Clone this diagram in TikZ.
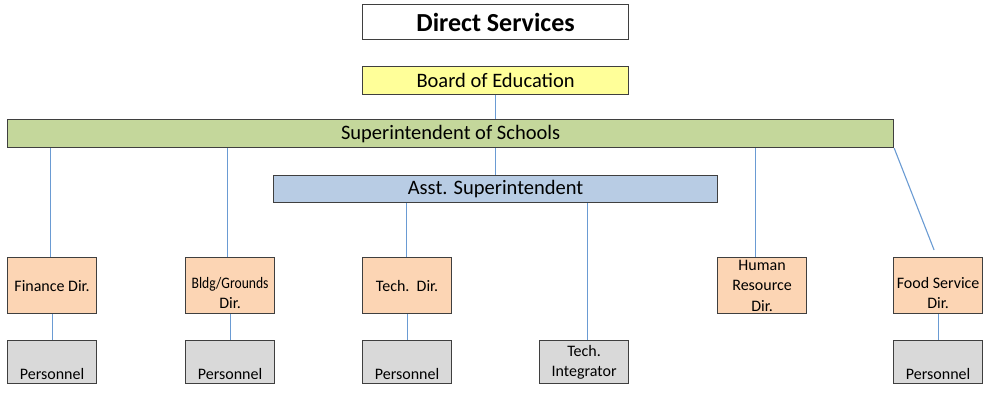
\documentclass[tikz,border=0pt]{standalone}
\usepackage{fontspec}
\setmainfont{Carlito}
\usepackage{tikz}
\usetikzlibrary{calc}
\definecolor{boardyellow}{HTML}{FFFF99}
\definecolor{supergreen}{HTML}{C4D79B}
\definecolor{asstblue}{HTML}{B8CCE4}
\definecolor{dirpeach}{HTML}{FCD5B4}
\definecolor{persgray}{HTML}{D9D9D9}
\definecolor{boxgray}{HTML}{3F3F3F}
\definecolor{linkblue}{HTML}{6A9BD3}
\begin{document}
\begin{tikzpicture}[x=1pt,y=-1pt,
  box/.style={draw=boxgray, line width=1.2pt, inner sep=0pt, anchor=north west, align=center},
  wide/.style={box, minimum width=266pt, font=\fontsize{20.5}{24}\selectfont},
  dirbox/.style={box, fill=dirpeach, minimum width=89pt, minimum height=56pt, font=\fontsize{16}{20.5}\selectfont},
  persbox/.style={box, fill=persgray, minimum width=89pt, minimum height=43pt, font=\fontsize{16}{20.5}\selectfont},
  link/.style={draw=linkblue, line width=1.1pt}]
\useasboundingbox (0,0) rectangle (989,392);
\node[wide, fill=white, minimum height=35pt, font=\bfseries\fontsize{26}{30}\selectfont] (title) at (362,4) {Direct Services};
\node[wide, fill=boardyellow, minimum height=28pt] (board) at (362,66) {Board of Education};
\node[wide, fill=supergreen, minimum width=886pt, minimum height=28pt] (super) at (7,119) {Superintendent of Schools};
\node[wide, fill=asstblue, minimum width=444pt, minimum height=27pt] (asst) at (273,175) {Asst. Superintendent};
\node[dirbox] (fin) at (7,257) {Finance Dir.};
\node[dirbox] (bldg) at (185,257) {\mbox{}\\[5pt]\scalebox{0.85}[1]{Bldg/Grounds}\\Dir.};
\node[dirbox] (tech) at (362,257) {Tech.\ \ Dir.};
\node[dirbox] (hr) at (717,257) {Human\\Resource\\Dir.};
\node[dirbox] (food) at (893,257) {\mbox{}\\[5pt]Food Service\\Dir.};
\node[persbox] (finp) at (7,340) {\strut\\Personnel};
\node[persbox] (bldgp) at (185,340) {\strut\\Personnel};
\node[persbox] (techp) at (362,340) {\strut\\Personnel};
\node[persbox] (integ) at (539,340) {Tech.\\Integrator};
\node[persbox] (foodp) at (893,340) {\strut\\Personnel};
\draw[link] (board.south) -- (board.south |- super.north);
\draw[link] (board.south |- super.south) -- (board.south |- asst.north);
\draw[link] ([xshift=-2pt]fin.north) -- ([xshift=-2pt]fin.north |- super.south);
\draw[link] ([xshift=-3pt]bldg.north) -- ([xshift=-3pt]bldg.north |- super.south);
\draw[link] ([xshift=-7pt]hr.north) -- ([xshift=-7pt]hr.north |- super.south);
\draw[link] (super.south east) -- ([shift={(-4,-7)}]food.north);
\draw[link] ([xshift=-1pt]tech.north) -- ([xshift=-1pt]tech.north |- asst.south);
\draw[link] ([xshift=3pt]integ.north) -- ([xshift=3pt]integ.north |- asst.south);
\draw[link] (fin) -- (finp);
\draw[link] (bldg) -- (bldgp);
\draw[link] (tech) -- (techp);
\draw[link] (food) -- (foodp);
\end{tikzpicture}
\end{document}
